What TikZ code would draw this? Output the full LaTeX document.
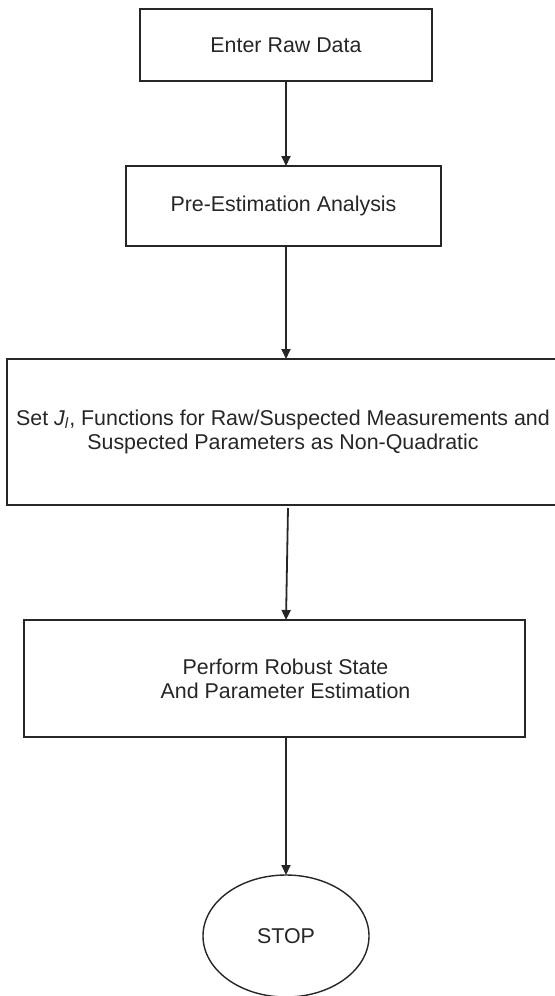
\documentclass[tikz,border=0pt]{standalone}
\usepackage{fontspec}
\setmainfont{Liberation Sans}
\usetikzlibrary{arrows.meta,shapes.geometric}

\begin{document}
\begin{tikzpicture}
  [x=0.5pt,y=-0.5pt,every node/.style={draw=black!85,line width=0.9pt,text=black!85,
   font=\fontsize{10.7}{12}\selectfont,align=center,outer sep=0pt,inner xsep=1pt}]
  \useasboundingbox (0,0) rectangle (555,996);
  \clip (0,0) rectangle (555,996);
  \node (enter) at (286,45) [minimum width=146pt,minimum height=36pt] {Enter Raw Data};
  \node (pre) at (283.5,206) [minimum width=157.5pt,minimum height=40pt] {Pre-Estimation Analysis};
  \node (setj) at (283,432) [minimum width=276pt,minimum height=73pt]
    {Set {\itshape J\textsubscript{l}}, Functions for Raw/Suspected Measurements and\\
     Suspected Parameters as Non-Quadratic};
  \node (robust) at (274.5,678.5) [minimum width=250.5pt,minimum height=58.5pt]
    {\hspace*{11pt}Perform Robust State\\\hspace*{11pt}And Parameter Estimation};
  \node (stop) at (286,936) [ellipse,line width=0.7pt,minimum width=83pt,minimum height=61pt] {STOP};
  \coordinate (s3) at (288,508);

  \begin{scope}[line width=0.9pt,draw=black!85,-{Triangle[length=5pt,width=4.5pt]}]
  \foreach \from/\to in {enter/pre,pre/setj}
    \draw (\from.south -| stop.north) -- (\to.north -| stop.north);
  \draw (s3) -- (robust.north -| stop.north);
  \draw (robust.south -| stop.north) -> (stop.north);
  \end{scope}
\end{tikzpicture}
\end{document}
